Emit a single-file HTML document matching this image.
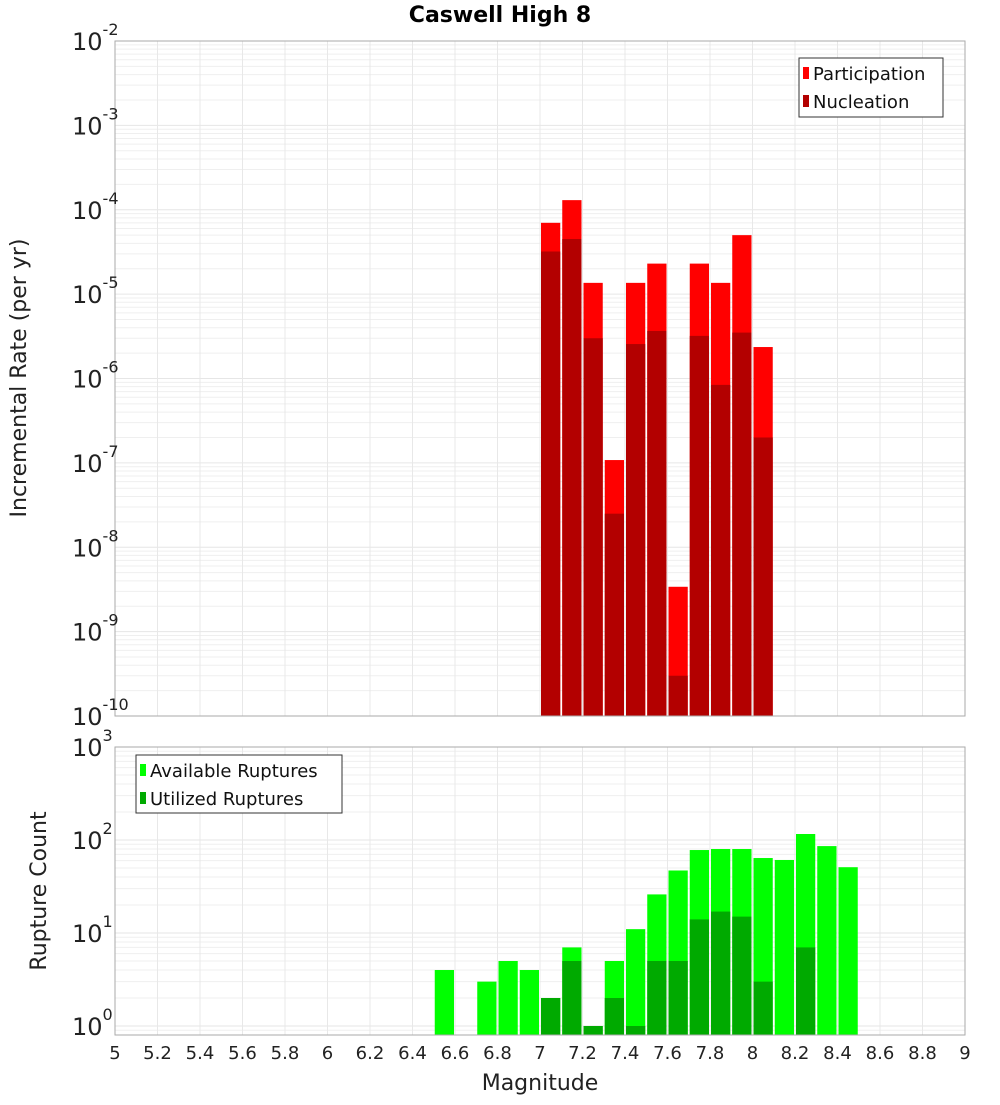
<!DOCTYPE html>
<html><head><meta charset="utf-8"><style>
body{margin:0;background:#fff}
svg text{font-family:"DejaVu Sans","Liberation Sans",sans-serif}
</style></head><body>
<svg id="c" width="1000" height="1100" xmlns="http://www.w3.org/2000/svg"></svg>
<script>
const binStarts=[7.0,7.1,7.2,7.3,7.4,7.5,7.6,7.7,7.8,7.9,8.0];
const participation=[7e-5,1.3e-4,1.36e-5,1.08e-7,1.36e-5,2.3e-5,3.4e-9,2.3e-5,1.36e-5,5.0e-5,2.36e-6];
const nucleation=[3.2e-5,4.5e-5,3.0e-6,2.5e-8,2.56e-6,3.66e-6,3e-10,3.2e-6,8.4e-7,3.5e-6,2.0e-7];
const cntBins=[6.5,6.7,6.8,6.9,7.0,7.1,7.2,7.3,7.4,7.5,7.6,7.7,7.8,7.9,8.0,8.1,8.2,8.3,8.4];
const available=[4,3,5,4,2,7,1,5,11,26,47,78,80,80,64,61,116,86,51];
const utilized=[0,0,0,0,2,5,1,2,1,5,5,14,17,15,3,0,7,0,0];
const xTicks=[5,5.2,5.4,5.6,5.8,6,6.2,6.4,6.6,6.8,7,7.2,7.4,7.6,7.8,8,8.2,8.4,8.6,8.8,9];
const topExp=[-2,-3,-4,-5,-6,-7,-8,-9,-10];
const botExp=[3,2,1,0];

const svg=document.getElementById('c');const NS='http://www.w3.org/2000/svg';
function mk(t,a,p){const e=document.createElementNS(NS,t);for(const k in a)e.setAttribute(k,a[k]);(p||svg).appendChild(e);return e;}
const X0=115,X1=965;
const xs=m=>X0+(m-5)/4*(X1-X0);
const T0=41,T1=716;
const yt=v=>T1-(Math.log10(v)+10)/8*(T1-T0);
const B0=747,B1=1035,BZ=1026,BD=93;
const yb=v=>BZ-Math.log10(v)*BD;

function grid(top,bot,yf,lo,hi,name){
  const g=mk('g',{});
  for(let e=lo;e<hi;e++)for(let k=1;k<10;k++){const y=yf(k*Math.pow(10,e));if(y<top-0.5||y>bot+0.5)continue;
    mk('line',{x1:X0,x2:X1,y1:y,y2:y,stroke:k==1?'#e6e6e6':'#efefef','stroke-width':1},g);}
  xTicks.forEach(t=>{const x=xs(t);mk('line',{x1:x,x2:x,y1:top,y2:bot,stroke:'#e8e8e8'},g);});
}
grid(T0,T1,yt,-10,-1,'top-grid');
grid(B0,B1,yb,-1,3,'bottom-grid');

// top bars
binStarts.forEach((b,i)=>{
  const x=xs(b)+1,w=xs(b+0.1)-xs(b)-2;
  let r=mk('rect',{x:x,y:yt(participation[i]),width:w,height:T1-yt(participation[i]),fill:'#ff0000'});
  
  r=mk('rect',{x:x,y:yt(nucleation[i]),width:w,height:T1-yt(nucleation[i]),fill:'#b30000'});
  
});
cntBins.forEach((b,i)=>{
  const x=xs(b)+1,w=xs(b+0.1)-xs(b)-2;
  let r=mk('rect',{x:x,y:yb(available[i]),width:w,height:B1-yb(available[i]),fill:'#00ff00'});
  
  if(utilized[i]>0){r=mk('rect',{x:x,y:yb(utilized[i]),width:w,height:B1-yb(utilized[i]),fill:'#00aa00'});
  }
});
// borders
mk('rect',{x:X0,y:T0,width:X1-X0,height:T1-T0,fill:'none',stroke:'#aaa'});
mk('rect',{x:X0,y:B0,width:X1-X0,height:B1-B0,fill:'none',stroke:'#aaa'});

function ylab(y,e,name){const t=mk('text',{x:72,y:y+9,'font-size':24,fill:'#222'});t.textContent='10';
  const s=mk('tspan',{dy:-15,'font-size':16},t);s.textContent=String(e);
  }
topExp.forEach(e=>ylab(yt(Math.pow(10,e)),e,'top-y-tick-label'));
botExp.forEach(e=>ylab(yb(Math.pow(10,e)),e,'bottom-y-tick-label'));
xTicks.forEach(t=>{const e=mk('text',{x:xs(t),y:1059,'font-size':18,'text-anchor':'middle',fill:'#222'});e.textContent=String(t);
  });

let t=mk('text',{x:500,y:22,'font-size':22,'font-weight':'bold','text-anchor':'middle'});t.textContent='Caswell High 8';
t=mk('text',{x:540,y:1090,'font-size':22,'text-anchor':'middle',fill:'#222'});t.textContent='Magnitude';
t=mk('text',{x:0,y:0,'font-size':22,'text-anchor':'middle',fill:'#222',transform:'translate(26,378) rotate(-90)'});t.textContent='Incremental Rate (per yr)';
t=mk('text',{x:0,y:0,'font-size':22,'text-anchor':'middle',fill:'#222',transform:'translate(46,891) rotate(-90)'});t.textContent='Rupture Count';

function legend(x,y,w,h,items,name){const g=mk('g',{});
  mk('rect',{x:x,y:y,width:w,height:h,fill:'#fff',stroke:'#333'},g);
  items.forEach((it,i)=>{const cy=y+15+i*28;mk('rect',{x:x+4,y:cy-6,width:6,height:12,fill:it[1]},g);
    const tt=mk('text',{x:x+14,y:cy+7,'font-size':18,fill:'#111'},g);tt.textContent=it[0];
    });}
legend(799,58,144,59,[['Participation','#ff0000'],['Nucleation','#b30000']],'top-legend');
legend(136,755,206,58,[['Available Ruptures','#00ff00'],['Utilized Ruptures','#00aa00']],'bottom-legend');
</script>
</body></html>
